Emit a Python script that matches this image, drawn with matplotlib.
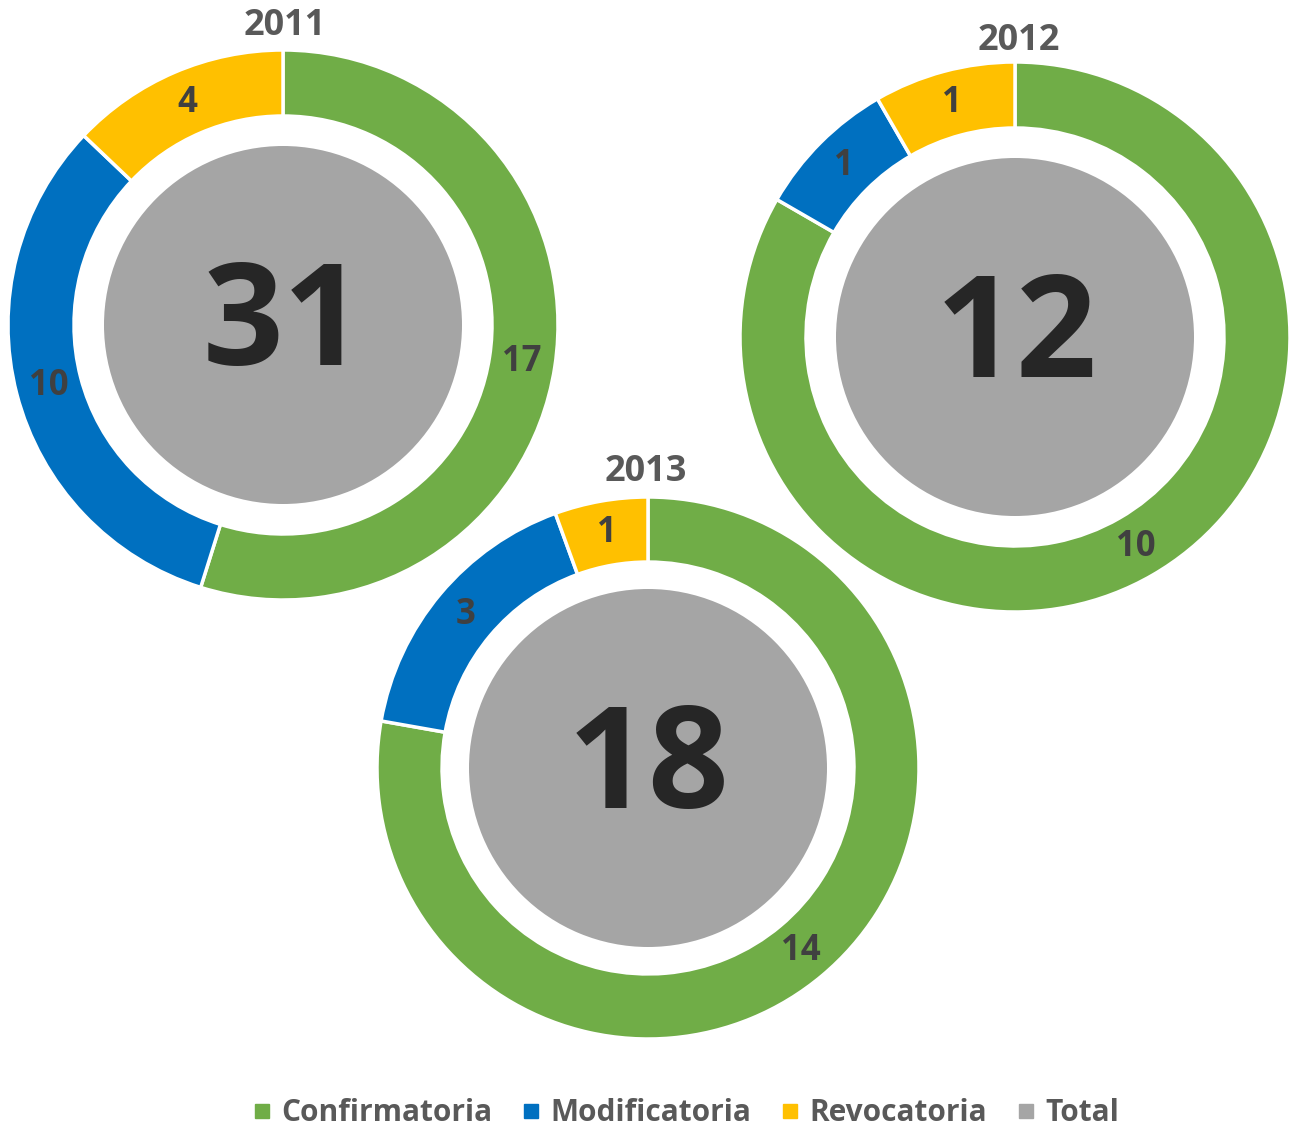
import matplotlib
matplotlib.use("Agg")
import matplotlib.pyplot as plt
from matplotlib.lines import Line2D

years = ["2011", "2012", "2013"]
categories = ["Confirmatoria", "Modificatoria", "Revocatoria", "Total"]
confirmatoria = [17, 10, 14]
modificatoria = [10, 1, 3]
revocatoria = [4, 1, 1]
totals = [31, 12, 18]

colors = ["#70AD47", "#0070C0", "#FFC000", "#A5A5A5"]

W, H = 1289, 1128
centers = [(283, H - 325), (1015, H - 337), (648, H - 768)]
radii = [275, 275, 271]
grey_r = 179
title_pos = [(285, H - 26), (1019, H - 41), (646, H - 472)]

plt.rcParams['font.family'] = ['Open Sans', 'DejaVu Sans']

fig = plt.figure(figsize=(W / 100, H / 100), dpi=100)
ax = fig.add_axes([0, 0, 1, 1])

for i, yr in enumerate(years):
    vals = [confirmatoria[i], modificatoria[i], revocatoria[i]]
    R = radii[i]
    ring_w = R * 0.24
    wedges, texts = ax.pie(vals, colors=colors[:3], startangle=90, counterclock=False,
                           radius=R, center=centers[i],
                           labels=[str(v) for v in vals],
                           labeldistance=(R - ring_w / 2) / R,
                           wedgeprops=dict(width=ring_w, edgecolor="white", linewidth=2.5),
                           textprops=dict(fontsize=25, fontweight="bold", color="#404040"))
    for t in texts:
        t.set_ha("center")
        t.set_va("center")
    ax.pie([totals[i]], colors=[colors[3]], radius=grey_r, center=centers[i],
           startangle=90, wedgeprops=dict(linewidth=0))
    ax.text(centers[i][0] + 1, centers[i][1] - 40, str(totals[i]), ha="center", va="baseline",
            fontsize=102, fontweight="bold", color="#262626")
    ax.text(title_pos[i][0], title_pos[i][1], yr, ha="center", va="center",
            fontsize=26, fontweight="bold", color="#595959")

ax.set_xlim(0, W)
ax.set_ylim(0, H)
ax.set_aspect("equal")
ax.axis("off")

handles = [Line2D([], [], marker="s", linestyle="none", markersize=10,
                  markerfacecolor=c, markeredgecolor=c) for c in colors]
fig.legend(handles, categories, loc="center", bbox_to_anchor=(686 / W, 1 - 1113 / H),
           ncol=4, frameon=False, handlelength=0.6, handletextpad=0.35,
           columnspacing=1.0,
           prop=dict(weight="bold", size=21.5), labelcolor="#595959")

fig.savefig("out.png", dpi=100)
